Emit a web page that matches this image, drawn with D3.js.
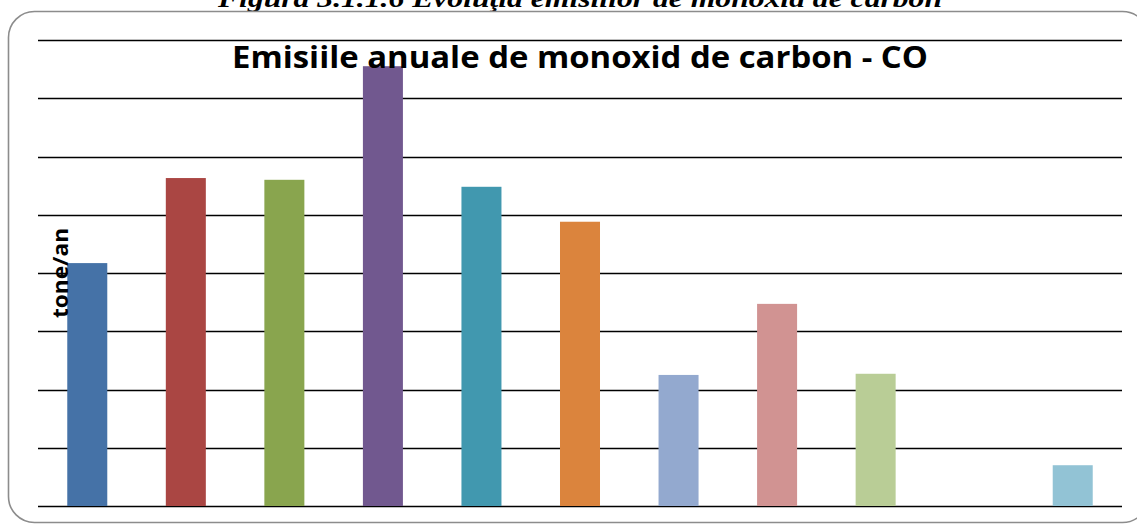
<!DOCTYPE html>
<html>
<head>
<meta charset="utf-8">
<script src="https://cdn.jsdelivr.net/npm/d3@7"></script>
<style>
  body { margin: 0; background: #fff; }
  svg { display: block; }
</style>
</head>
<body>
<div id="chart"></div>
<script>
// categories (no labels shown on the original axis)
var categories = ["2000", "2001", "2002", "2003", "2004", "2005", "2006", "2007", "2008", "2009", "2010"];
// values in gridline units (axis has no tick labels)
var values = [4.17, 5.63, 5.60, 7.55, 5.48, 4.88, 2.25, 3.47, 2.27, 0, 0.70];
var colors = ["#4572A7", "#AA4643", "#89A54E", "#71588F", "#4198AF", "#DB843D",
              "#93A9CF", "#D19392", "#B9CD96", "#A99BBD", "#92C3D5"];
var gridTicks = [0, 1, 2, 3, 4, 5, 6, 7, 8];

var width = 1137, height = 525;
var margin = {top: 40, right: 15, bottom: 19, left: 38};

var svg = d3.select("#chart").append("svg")
    .attr("width", width)
    .attr("height", height);

// caption of the figure, cut by the top edge
svg.append("text")
    .attr("x", 580)
    .attr("y", 7)
    .attr("text-anchor", "middle")
    .attr("textLength", 724)
    .attr("lengthAdjust", "spacingAndGlyphs")
    .style("font-family", "'Liberation Serif', serif")
    .style("font-weight", "bold")
    .style("font-style", "italic")
    .style("font-size", "25px")
    .text("Figura 3.1.1.6 Evoluţia emisiilor de monoxid de carbon");

// rounded frame
svg.append("rect")
    .attr("x", 8.5)
    .attr("y", 11.5)
    .attr("width", 1140)
    .attr("height", 511)
    .attr("rx", 26)
    .attr("fill", "none")
    .attr("stroke", "#8c8c8c")
    .attr("stroke-width", 1.6);

var w = width - margin.left - margin.right,
    h = height - margin.top - margin.bottom;

var g = svg.append("g")
    .attr("transform", "translate(" + margin.left + "," + margin.top + ")");

var x = d3.scaleBand()
    .domain(categories)
    .range([0, w])
    .paddingInner(0.594)
    .paddingOuter(0.297);

var y = d3.scaleLinear()
    .domain([0, 8])
    .range([h, 0]);

// gridlines
g.append("g")
    .attr("class", "grid")
  .selectAll("line")
    .data(gridTicks)
  .enter().append("line")
    .attr("x1", 0)
    .attr("x2", w)
    .attr("y1", function(d) { return Math.round(y(d)) + 0.5; })
    .attr("y2", function(d) { return Math.round(y(d)) + 0.5; })
    .attr("stroke", "#000")
    .attr("stroke-width", 1.6);

g.append("g")
    .attr("class", "bars")
  .selectAll("rect")
    .data(values)
  .enter().append("rect")
    .attr("x", function(d, i) { return x(categories[i]); })
    .attr("width", x.bandwidth())
    .attr("y", function(d) { return y(d); })
    .attr("height", function(d) { return h - y(d); })
    .attr("fill", function(d, i) { return colors[i]; });

// y axis title
svg.append("text")
    .attr("transform", "translate(68,273) rotate(-90)")
    .attr("text-anchor", "middle")
    .attr("textLength", 90)
    .attr("lengthAdjust", "spacingAndGlyphs")
    .style("font-family", "'Open Sans', sans-serif")
    .style("font-weight", "bold")
    .style("font-size", "21px")
    .text("tone/an");

// chart title, drawn over the bars
svg.append("text")
    .attr("x", 580)
    .attr("y", 68)
    .attr("text-anchor", "middle")
    .attr("textLength", 696)
    .attr("lengthAdjust", "spacingAndGlyphs")
    .style("font-family", "'Open Sans', sans-serif")
    .style("font-weight", "bold")
    .style("font-size", "31px")
    .text("Emisiile anuale de monoxid de carbon - CO");
</script>
</body>
</html>
